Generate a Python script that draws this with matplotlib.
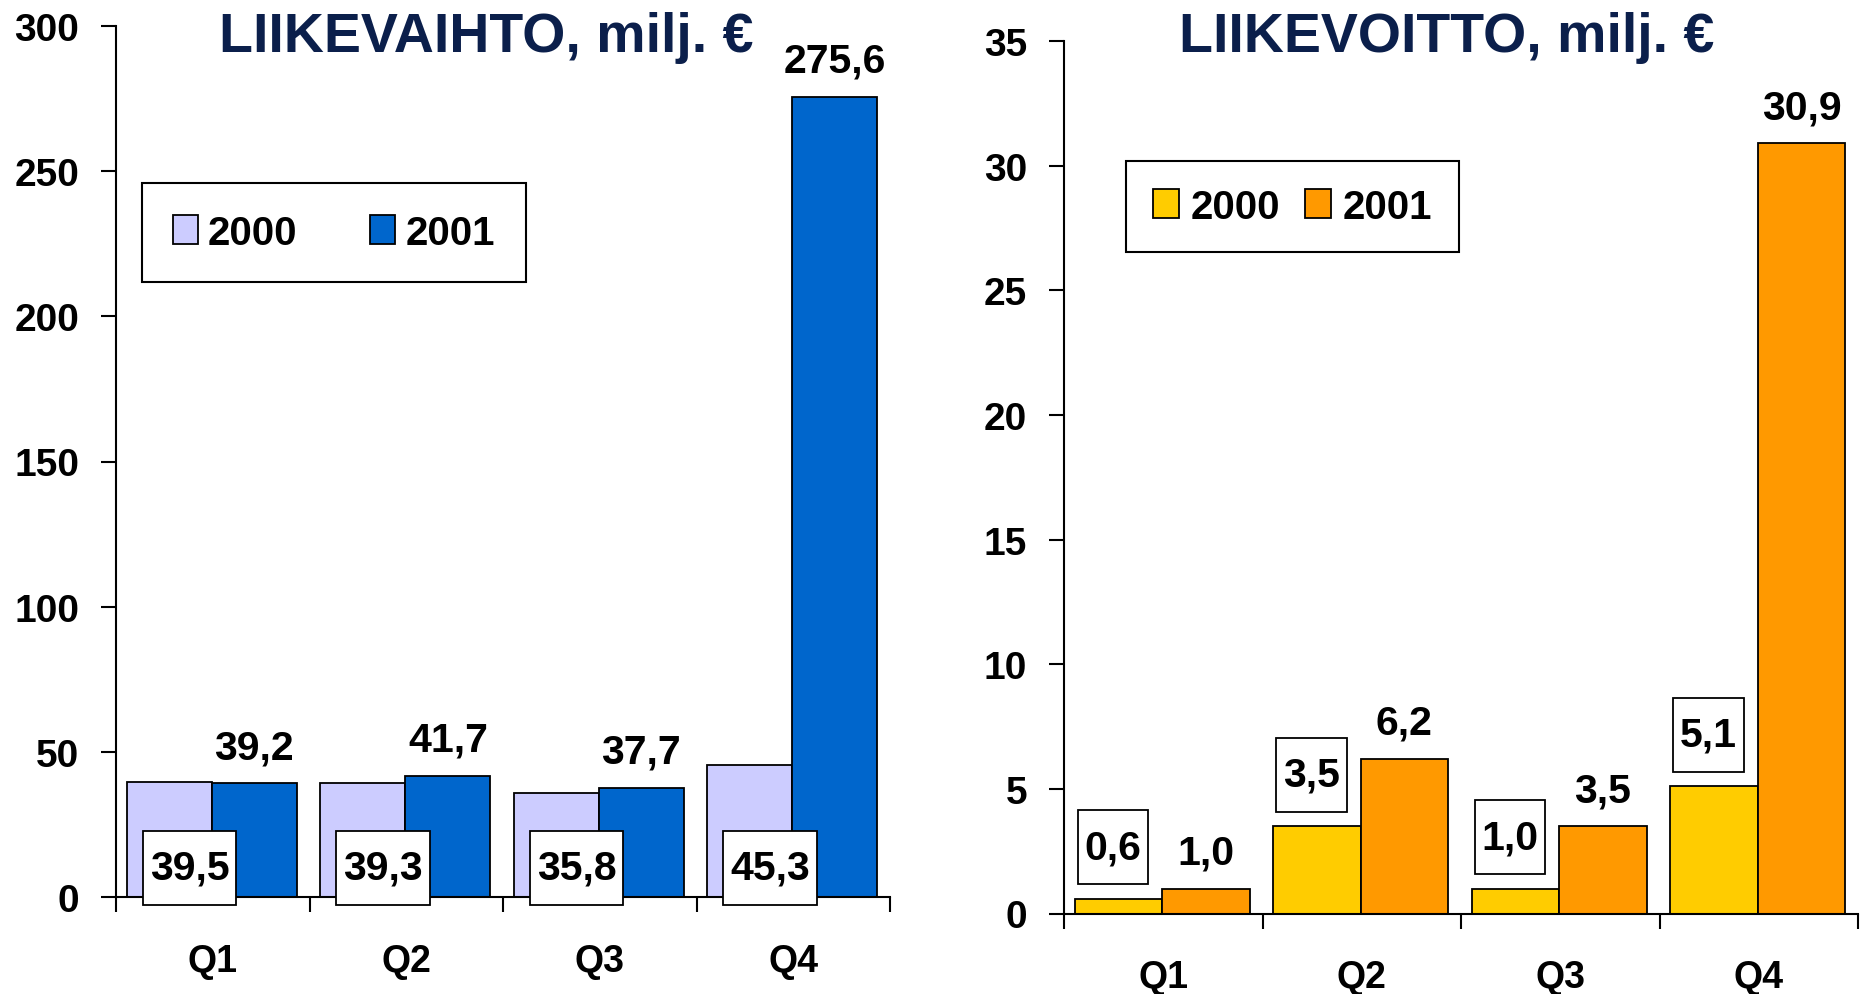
import numpy as np
import matplotlib.pyplot as plt
from matplotlib.path import Path

quarters = ['Q1', 'Q2', 'Q3', 'Q4']
years = ['2000', '2001']

# liikevaihto (turnover), milj. EUR
sales_2000 = [39.5, 39.3, 35.8, 45.3]
sales_2001 = [39.2, 41.7, 37.7, 275.6]

# liikevoitto (operating profit), milj. EUR
profit_2000 = [0.6, 3.5, 1.0, 5.1]
profit_2001 = [1.0, 6.2, 3.5, 30.9]

plt.rcParams['font.family'] = ['Liberation Sans', 'DejaVu Sans']
plt.rcParams['font.weight'] = 'bold'

W, H = 1860, 995
TITLE_COLOR = '#0b1f4b'
TICK_FS = 28
LABEL_FS = 29.5
LEG_FS = 29


def fmt(v):
    return f'{v:.1f}'.replace('.', ',')


def tall_box(x0, y0, width, height, mutation_size):
    # square box, more padding top/bottom than left/right
    px, py = 0.17 * mutation_size, 0.44 * mutation_size
    x0, y0 = x0 - px, y0 - py
    x1, y1 = x0 + width + 2 * px, y0 + height + 2 * py
    return Path([(x0, y0), (x1, y0), (x1, y1), (x0, y1), (x0, y0)], closed=True)


box_props = dict(boxstyle=tall_box, facecolor='white', edgecolor='black', linewidth=1.3)


def draw_panel(ax, v0, v1, c0, c1, ymax, step, boxes_on_top):
    x = np.arange(len(quarters))
    ax.bar(x - 0.225, v0, 0.44, color=c0, edgecolor='black', linewidth=1.3, label=years[0])
    ax.bar(x + 0.215, v1, 0.44, color=c1, edgecolor='black', linewidth=1.3, label=years[1])

    for xi, v in zip(x, v1):
        ax.annotate(fmt(v), (xi + 0.215, v), xytext=(0, 26), textcoords='offset points',
                    ha='center', va='center', fontsize=LABEL_FS)
    for xi, v in zip(x, v0):
        if boxes_on_top:
            ax.annotate(fmt(v), (xi - 0.225, v), xytext=(-4, 37), textcoords='offset points',
                        ha='center', va='center', fontsize=LABEL_FS, bbox=box_props)
        else:
            ax.annotate(fmt(v), (xi - 0.12, 0), xytext=(0, 21), textcoords='offset points',
                        ha='center', va='center', fontsize=LABEL_FS, bbox=box_props)

    ax.set_xlim(-0.5, len(quarters) - 0.5)
    ax.set_ylim(0, ymax)
    ax.set_yticks(np.arange(0, ymax + 1, step))
    ax.set_xticks(x)
    ax.set_xticklabels(quarters)
    ax.set_xticks(np.arange(-0.5, len(quarters), 1), minor=True)
    ax.tick_params(axis='x', which='major', length=0, pad=33, labelsize=27)
    ax.tick_params(axis='x', which='minor', length=11, width=1.5, direction='out')
    ax.tick_params(axis='y', length=10.5, width=1.5, pad=16, labelsize=TICK_FS)
    for s in ['top', 'right']:
        ax.spines[s].set_visible(False)
    for s in ['left', 'bottom']:
        ax.spines[s].set_linewidth(1.5)
    ax.patch.set_visible(False)


fig = plt.figure(figsize=(W / 100, H / 100), dpi=100)
ax1 = fig.add_axes([116 / W, 97 / H, 774 / W, 871 / H])
ax2 = fig.add_axes([1064 / W, 80.5 / H, 794 / W, 872.5 / H])

draw_panel(ax1, sales_2000, sales_2001, '#ccccff', '#0066cc', 300, 50, False)
draw_panel(ax2, profit_2000, profit_2001, '#ffcc00', '#ff9900', 35, 5, True)

fig.text(219 / W, 1 - 52 / H, 'LIIKEVAIHTO, milj. €', ha='left', va='baseline',
         fontsize=40, color=TITLE_COLOR)
fig.text(1179 / W, 1 - 52 / H, 'LIIKEVOITTO, milj. €', ha='left', va='baseline',
         fontsize=40, color=TITLE_COLOR)

leg1 = ax1.legend(loc='upper left', bbox_to_anchor=(142 / W, 1 - 184 / H),
                  bbox_transform=fig.transFigure, ncol=2, fontsize=LEG_FS, fancybox=False,
                  edgecolor='black', framealpha=1, borderaxespad=0, borderpad=0.76,
                  handlelength=0.62, handleheight=0.7, handletextpad=0.26, columnspacing=1.8)
leg2 = ax2.legend(loc='upper left', bbox_to_anchor=(1126 / W, 1 - 162 / H),
                  bbox_transform=fig.transFigure, ncol=2, fontsize=LEG_FS, fancybox=False,
                  edgecolor='black', framealpha=1, borderaxespad=0, borderpad=0.66,
                  handlelength=0.65, handleheight=0.7, handletextpad=0.3, columnspacing=0.6)
for leg in (leg1, leg2):
    leg.get_frame().set_linewidth(1.5)

fig.savefig('out.png', dpi=100)
